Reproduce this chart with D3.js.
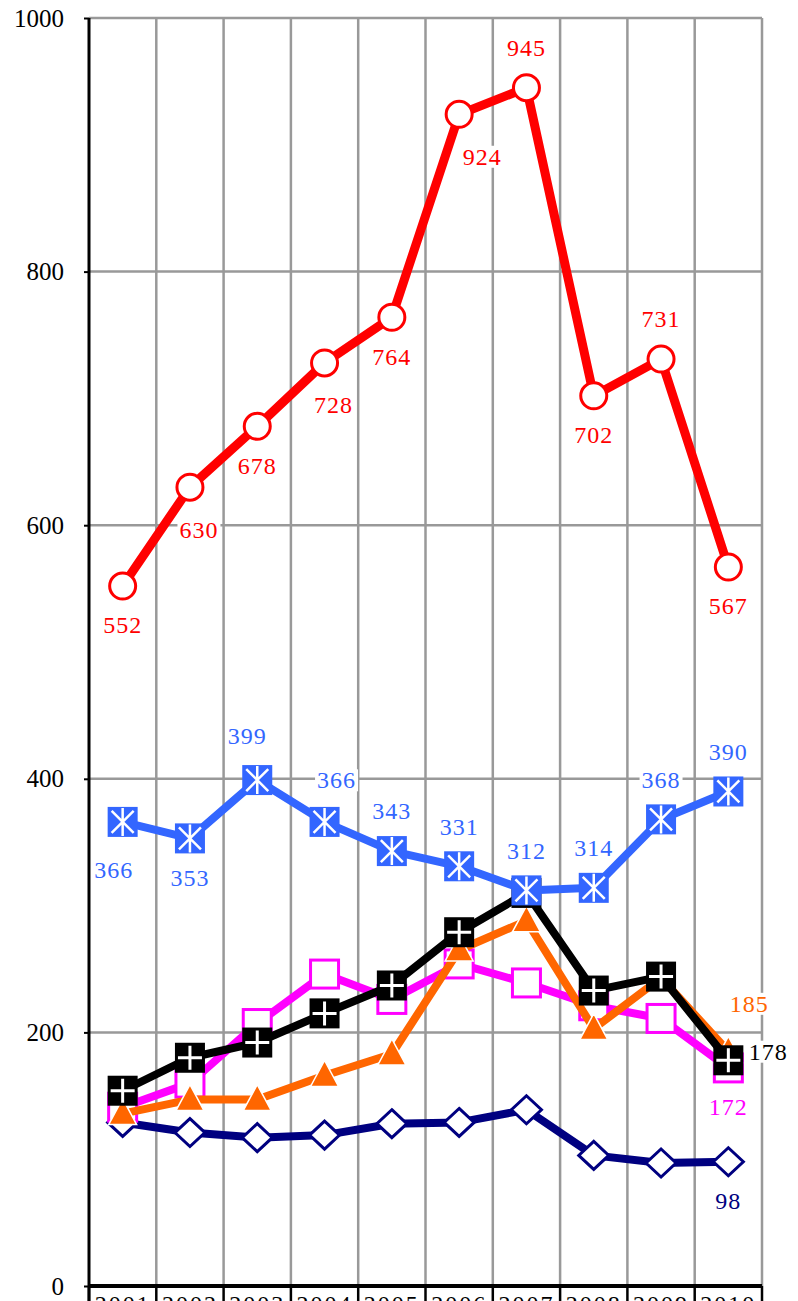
<!DOCTYPE html>
<html>
<head>
<meta charset="utf-8">
<script src="https://cdn.jsdelivr.net/npm/d3@7"></script>
<style>
  body { margin: 0; background: #fff; }
</style>
</head>
<body>
<div id="viz"></div>
<script>
// chart data
const years = ['2001', '2002', '2003', '2004', '2005', '2006', '2007', '2008', '2009', '2010']
const yTicks = [0, 200, 400, 600, 800, 1000]

const redValues = [552, 630, 678, 728, 764, 924, 945, 702, 731, 567]
const blueValues = [366, 353, 399, 366, 343, 331, 312, 314, 368, 390]
const blackValues = [154, 180, 192, 215, 237, 279, 310, 233, 244, 178]
const magentaValues = [141, 160, 207, 246, 226, 254, 239, 221, 211, 172]
const orangeValues = [136, 147, 147, 166, 183, 265, 288, 203, 243, 185]
const navyValues = [129, 121, 117, 119, 128, 129, 139, 103, 97, 98]

// where each value label sits (null = no label)
const redLabelSpots = ['below', 'belowRight', 'below', 'belowRight', 'below', 'belowFarRight', 'above', 'below', 'above', 'below']
const blueLabelSpots = ['belowLeft', 'below', 'aboveLeft', 'aboveRight', 'above', 'above', 'above', 'above', 'above', 'above']
const blackLabelSpots = [null, null, null, null, null, null, null, null, null, 'right']
const magentaLabelSpots = [null, null, null, null, null, null, null, null, null, 'below']
const orangeLabelSpots = [null, null, null, null, null, null, null, null, null, 'aboveFarRight']
const navyLabelSpots = [null, null, null, null, null, null, null, null, null, 'below']

const FONT = '"Liberation Serif", "Times New Roman", serif'
const W = 798, H = 1301
const plot = { left: 89, right: 762, top: 18, bottom: 1286 }

const svg = d3.select('#viz').append('svg')
  .attr('width', W).attr('height', H)

const x = d3.scaleBand().domain(years).range([plot.left, plot.right])
const y = d3.scaleLinear().domain([0, 1000]).range([plot.bottom, plot.top])
const cx = d => x(d) + x.bandwidth() / 2

// grid
const grid = svg.append('g')
grid.selectAll('.hgrid').data(yTicks.filter(t => t > 0)).enter().append('line')
  .attr('x1', plot.left).attr('x2', plot.right)
  .attr('y1', d => y(d)).attr('y2', d => y(d))
  .attr('stroke', '#999').attr('stroke-width', 2.5)
grid.selectAll('.vgrid').data(years.slice(1).concat(['end'])).enter().append('line')
  .attr('x1', d => d === 'end' ? plot.right : x(d))
  .attr('x2', d => d === 'end' ? plot.right : x(d))
  .attr('y1', plot.top).attr('y2', plot.bottom)
  .attr('stroke', '#999').attr('stroke-width', 2.5)

// x axis: category separators below the axis and labels
const xAxis = svg.append('g')
  .attr('transform', `translate(0, ${plot.bottom})`)
  .call(d3.axisBottom(x).tickSize(0).tickPadding(9))
xAxis.select('.domain').remove()
xAxis.selectAll('.tick text')
  .attr('font-size', 24).attr('fill', '#000')
  .style('font-family', FONT)
  .attr('letter-spacing', 2)
xAxis.selectAll('.sep').data(years.concat(['end'])).enter().append('line')
  .attr('x1', d => d === 'end' ? plot.right : x(d))
  .attr('x2', d => d === 'end' ? plot.right : x(d))
  .attr('y1', 0).attr('y2', H - plot.bottom)
  .attr('stroke', '#000').attr('stroke-width', 2.5)

// y axis
const yAxis = svg.append('g')
  .attr('transform', `translate(${plot.left}, 0)`)
  .call(d3.axisLeft(y).tickValues(yTicks).tickFormat(d3.format('d')).tickSize(5).tickPadding(20))
yAxis.select('.domain').attr('stroke', '#000').attr('stroke-width', 3)
  .attr('d', `M0,${plot.top}V${H}`)
yAxis.selectAll('.tick line').attr('stroke', '#000').attr('stroke-width', 2)
yAxis.selectAll('.tick text')
  .attr('font-size', 25).attr('fill', '#000')
  .style('font-family', FONT)

// bottom axis line
svg.append('line')
  .attr('x1', plot.left).attr('x2', plot.right)
  .attr('y1', plot.bottom).attr('y2', plot.bottom)
  .attr('stroke', '#000').attr('stroke-width', 4)

const line = d3.line().x(d => cx(d.year)).y(d => y(d.value))

const series = [
  { name: 'navy', values: navyValues, color: '#000080', marker: 'diamond', spots: navyLabelSpots },
  { name: 'magenta', values: magentaValues, color: '#FF00FF', marker: 'openSquare', spots: magentaLabelSpots },
  { name: 'orange', values: orangeValues, color: '#FF6600', marker: 'triangle', spots: orangeLabelSpots },
  { name: 'black', values: blackValues, color: '#000000', marker: 'plusSquare', spots: blackLabelSpots },
  { name: 'blue', values: blueValues, color: '#3366FF', marker: 'starSquare', spots: blueLabelSpots },
  { name: 'red', values: redValues, color: '#FF0000', marker: 'circle', spots: redLabelSpots }
]

function drawMarker (g, type, color) {
  if (type === 'circle') {
    g.append('circle').attr('r', 13).attr('fill', '#fff')
      .attr('stroke', color).attr('stroke-width', 3)
  } else if (type === 'openSquare') {
    g.append('rect').attr('x', -14).attr('y', -14).attr('width', 28).attr('height', 28)
      .attr('fill', '#fff').attr('stroke', color).attr('stroke-width', 3)
  } else if (type === 'plusSquare') {
    g.append('rect').attr('x', -15).attr('y', -15).attr('width', 30).attr('height', 30)
      .attr('fill', color)
    g.append('path').attr('d', 'M-12,0H12M0,-12V12')
      .attr('stroke', '#fff').attr('stroke-width', 3)
  } else if (type === 'starSquare') {
    g.append('rect').attr('x', -15).attr('y', -15).attr('width', 30).attr('height', 30)
      .attr('fill', color)
    g.append('path').attr('d', 'M-11,-11L11,11M11,-11L-11,11M0,-14V14')
      .attr('stroke', '#fff').attr('stroke-width', 2.5)
  } else if (type === 'triangle') {
    g.append('path').attr('d', 'M0,-15L14,11L-14,11Z')
      .attr('fill', color).attr('stroke', '#fff').attr('stroke-width', 1.5)
  } else if (type === 'diamond') {
    g.append('path').attr('d', 'M0,-14L15,0L0,14L-15,0Z')
      .attr('fill', '#fff').attr('stroke', color).attr('stroke-width', 3)
  }
}

series.forEach(s => {
  const pts = years.map((yr, i) => ({ year: yr, value: s.values[i] }))
  const g = svg.append('g').attr('class', s.name)
  g.append('path').datum(pts)
    .attr('d', line).attr('fill', 'none')
    .attr('stroke', s.color).attr('stroke-width', s.name === 'red' ? 9 : 8)
    .attr('stroke-linejoin', 'round')
  g.selectAll('.marker').data(pts).enter().append('g')
    .attr('transform', d => `translate(${cx(d.year)}, ${y(d.value)})`)
    .each(function () { drawMarker(d3.select(this), s.marker, s.color) })
})

// value labels on top
const spotOffset = {
  above: [0, -40],
  aboveLeft: [-10, -44],
  aboveRight: [12, -42],
  aboveFarRight: [21, -48],
  below: [0, 39],
  belowLeft: [-9, 48],
  belowRight: [9, 42],
  belowFarRight: [23, 42],
  right: [40, -9]
}
const labelLayer = svg.append('g')
series.forEach(s => {
  years.forEach((yr, i) => {
    const spot = s.spots[i]
    if (!spot) return
    const [dx, dy] = spotOffset[spot]
    const lx = cx(yr) + dx
    const ly = y(s.values[i]) + dy
    const lg = labelLayer.append('g').attr('transform', `translate(${lx}, ${ly})`)
    const t = lg.append('text')
      .text(s.values[i])
      .attr('text-anchor', 'middle')
      .attr('dy', '0.35em')
      .attr('font-size', 24)
      .attr('letter-spacing', 1)
      .attr('fill', s.color)
      .style('font-family', FONT)
    const bb = t.node().getBBox()
    lg.insert('rect', 'text')
      .attr('x', bb.x - 2).attr('y', bb.y + 2)
      .attr('width', bb.width + 4).attr('height', bb.height - 4)
      .attr('fill', '#fff')
  })
})
</script>
</body>
</html>
